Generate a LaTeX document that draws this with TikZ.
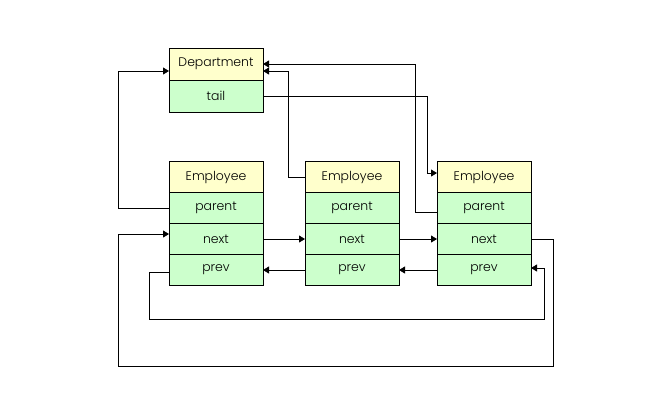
\documentclass[tikz,border=0pt]{standalone}
\usepackage{fontspec}
\setmainfont{Poppins Light}
\usepackage{xcolor}
\usetikzlibrary{arrows.meta, positioning}

\definecolor{hdrfill}{HTML}{FFFFCC}
\definecolor{fldfill}{HTML}{CCFFCC}

\begin{document}
\begin{tikzpicture}[
    x=1bp, y=-1bp,
    >={Triangle[length=6bp, width=7bp]},
    cell/.style={rectangle, draw, line width=0.8bp, minimum width=94bp,
                 inner sep=0pt, outer sep=0pt,
                 font=\fontsize{12.5}{14}\selectfont},
    hdr/.style={cell, fill=hdrfill, minimum height=31bp},
    fld/.style={cell, fill=fldfill, minimum height=31bp},
    link/.style={->, line width=0.8bp},
]
\useasboundingbox (0,0) rectangle (650,417);

% ---------------------------------------------------------------
%  Department record
% ---------------------------------------------------------------
\node[hdr, minimum height=32bp] (dept) at (216,64) {Department};
\node[fld, minimum height=32bp, below=0pt of dept] (tail) {tail};

% ---------------------------------------------------------------
%  Employee records
% ---------------------------------------------------------------
\node[hdr] (hd1) at (216,177) {Employee};
\node[fld, below=0pt of hd1] (par1) {parent};
\node[fld, below=0pt of par1] (nx1) {next};
\node[fld, below=0pt of nx1] (pv1) {prev};

\node[hdr] (hd2) at (352,177) {Employee};
\node[fld, below=0pt of hd2] (par2) {parent};
\node[fld, below=0pt of par2] (nx2) {next};
\node[fld, below=0pt of nx2] (pv2) {prev};

\node[hdr] (hd3) at (484,177) {Employee};
\node[fld, below=0pt of hd3] (par3) {parent};
\node[fld, below=0pt of par3] (nx3) {next};
\node[fld, below=0pt of nx3] (pv3) {prev};

% corners of the two wrap-around loops
\coordinate (wrapL) at (118,366);
\coordinate (wrapR) at (553,366);
\coordinate (loopL) at (149,319);
\coordinate (loopR) at (544,319);

% parent pointers
\draw[link] (par1.west) -- ++(-51,0) |- ([yshift=-7bp]dept.west);
\draw[link] (hd2.west) -- ++(-17,0) |- ([yshift=-7bp]dept.east);
\draw[link] ([yshift=-4bp]par3.west) -- ++(-22,0) |- (dept.east);

% tail pointer
\draw[link] (tail.east) -- ++(164,0) |- ([yshift=4bp]hd3.west);

% next / prev chain
\draw[link] (nx1.east) -- (nx2.west);
\draw[link] (nx2.east) -- (nx3.west);
\draw[link] (pv2.west) -- (pv1.east);
\draw[link] (pv3.west) -- (pv2.east);

% last next -> first, first prev -> last
\draw[link] (nx3.east) -| (wrapR) -- (wrapL) |- ([yshift=5bp]nx1.west);
\draw[link] ([yshift=-2bp]pv1.west) -| (loopL) -- (loopR)
    |- ([yshift=2bp]pv3.east);
\end{tikzpicture}
\end{document}
